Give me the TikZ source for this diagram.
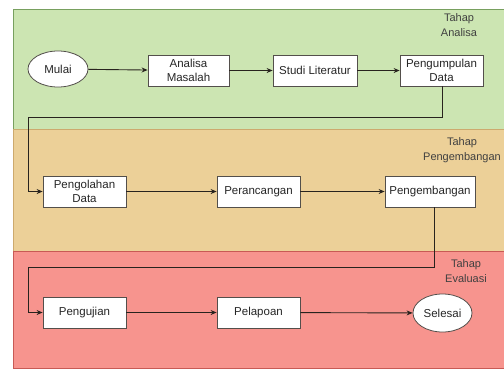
\documentclass[tikz,border=0pt]{standalone}
\usepackage{fontspec}
\setmainfont{Liberation Sans}
\usetikzlibrary{arrows.meta,shapes.geometric}
\definecolor{gfill}{RGB}{204,229,178}
\definecolor{gline}{RGB}{120,160,95}
\definecolor{ofill}{RGB}{236,208,152}
\definecolor{oline}{RGB}{205,170,110}
\definecolor{rfill}{RGB}{247,148,142}
\definecolor{rline}{RGB}{200,90,85}
\definecolor{lin}{RGB}{40,35,30}
\begin{document}
\begin{tikzpicture}[x=1pt,y=-1pt,
  band/.style={line width=0.8pt},
  box/.style={draw=lin!80, fill=white, line width=0.8pt, minimum height=31pt, inner sep=1pt, align=center, font=\fontsize{11.5}{14}\selectfont, text=black!85},
  oval/.style={draw=lin!80, fill=white, line width=0.8pt, ellipse, inner sep=0pt, font=\fontsize{11.5}{14}\selectfont, text=black!85},
  lbl/.style={align=center, font=\fontsize{11}{15}\selectfont, text=black!75},
  conn/.style={draw=lin, line width=0.9pt, -{Stealth[length=6pt,width=5pt]}}
]
\useasboundingbox (0,0) rectangle (504,370);
\fill[white] (0,0) rectangle (504,370);
% bands
\filldraw[band, fill=gfill, draw=gline] (13,9) rectangle (506,129);
\filldraw[band, fill=ofill, draw=oline] (13,129) rectangle (506,251);
\filldraw[band, fill=rfill, draw=rline] (13,251) rectangle (506,368);
% labels
\node[lbl] (la) at (459,25) {Tahap\\Analisa};
\node[lbl] (lp) at (462,150) {Tahap\\Pengembangan};
\node[lbl] (le) at (466,271) {Tahap\\Evaluasi};
% nodes
\node[oval, minimum width=60pt, minimum height=36pt] (mulai) at (58,69) {Mulai};
\node[box, minimum width=81pt] (am) at (188.5,70.5) {Analisa\\Masalah};
\node[box, minimum width=84pt] (sl) at (315,70.5) {Studi Literatur};
\node[box, minimum width=83pt] (pd) at (441.5,70.5) {Pengumpulan\\Data};
\node[box, minimum width=83pt] (pgd) at (84.5,191.5) {Pengolahan\\Data};
\node[box, minimum width=83pt] (per) at (258.5,191.5) {Perancangan};
\node[box, minimum width=90pt] (pgb) at (430,191.5) {Pengembangan};
\node[box, minimum width=83pt] (uji) at (84.5,312.5) {Pengujian};
\node[box, minimum width=83pt] (lap) at (258.5,312.5) {Pelapoan};
\node[oval, minimum width=59pt, minimum height=38pt] (sel) at (442.5,313) {Selesai};
% connectors
\draw[conn] (mulai) -- (am);
\draw[conn] (am) -- (sl);
\draw[conn] (sl) -- (pd);
\coordinate (c1) at (442,117);
\coordinate (c2) at (28,117);
\coordinate (c3) at (28,191.5);
\draw[conn] (pd.south -| c1) -- (c1) -- (c2) -- (c3) -- (pgd.west);
\draw[conn] (pgd) -- (per);
\draw[conn] (per) -- (pgb);
\coordinate (d1) at (434,267);
\coordinate (d2) at (28,267);
\coordinate (d3) at (28,312.5);
\draw[conn] (pgb.south -| d1) -- (d1) -- (d2) -- (d3) -- (uji.west);
\draw[conn] (uji) -- (lap);
\draw[conn] (lap) -- (sel);
\end{tikzpicture}
\end{document}
